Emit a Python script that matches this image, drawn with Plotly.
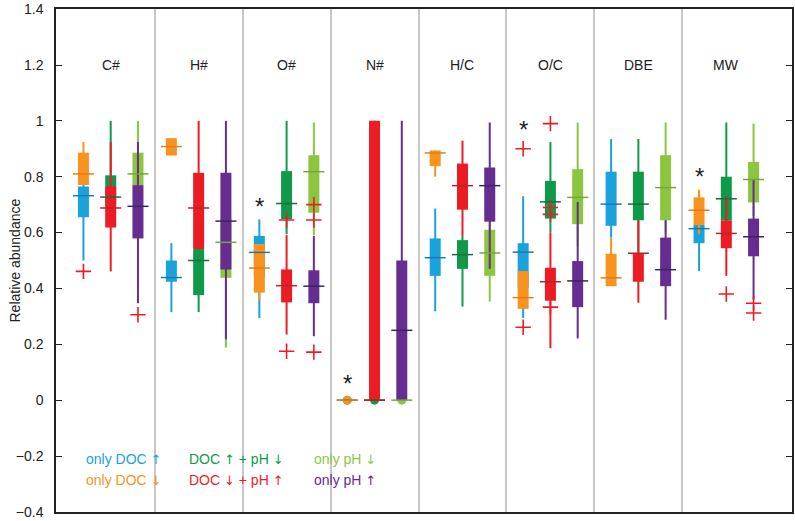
import plotly.graph_objects as go

# ---------------- data ----------------
groups = ["C#", "H#", "O#", "N#", "H/C", "O/C", "DBE", "MW"]

# five-number summaries per group: [lower whisker, q1, median, q3, upper whisker]
only_doc_up = [
    [0.500, 0.655, 0.732, 0.765, 0.860],
    [0.315, 0.424, 0.439, 0.500, 0.562],
    [0.294, 0.440, 0.529, 0.588, 0.647],
    [0.0, 0.0, 0.0, 0.0, 0.0],
    [0.318, 0.445, 0.510, 0.579, 0.686],
    [0.294, 0.400, 0.530, 0.562, 0.730],
    [0.582, 0.624, 0.702, 0.818, 0.935],
    [0.462, 0.562, 0.614, 0.627, 0.700],
]
only_doc_down = [
    [0.770, 0.770, 0.810, 0.886, 0.924],
    [0.876, 0.876, 0.908, 0.938, 0.938],
    [0.359, 0.385, 0.473, 0.559, 0.559],
    [0.0, 0.0, 0.0, 0.0, 0.0],
    [0.800, 0.838, 0.885, 0.894, 0.894],
    [0.327, 0.327, 0.367, 0.462, 0.462],
    [0.408, 0.408, 0.438, 0.524, 0.582],
    [0.594, 0.627, 0.680, 0.726, 0.753],
]
doc_up_ph_down = [
    [0.620, 0.700, 0.727, 0.805, 1.000],
    [0.315, 0.376, 0.500, 0.541, 0.700],
    [0.594, 0.648, 0.704, 0.820, 1.000],
    [0.0, 0.0, 0.0, 0.0, 0.0],
    [0.335, 0.470, 0.521, 0.573, 0.588],
    [0.600, 0.650, 0.710, 0.785, 0.924],
    [0.530, 0.644, 0.702, 0.818, 0.935],
    [0.600, 0.644, 0.721, 0.800, 0.994],
]
doc_down_ph_up = [
    [0.461, 0.618, 0.688, 0.765, 0.924],
    [0.541, 0.541, 0.688, 0.814, 1.000],
    [0.235, 0.350, 0.410, 0.468, 0.591],
    [0.0, 0.0, 0.0, 1.000, 1.000],
    [0.588, 0.682, 0.768, 0.847, 0.929],
    [0.186, 0.356, 0.424, 0.474, 0.600],
    [0.349, 0.424, 0.526, 0.526, 0.644],
    [0.445, 0.544, 0.597, 0.644, 0.730],
]
only_ph_down = [
    [0.600, 0.770, 0.810, 0.886, 1.000],
    [0.188, 0.438, 0.565, 0.650, 0.700],
    [0.590, 0.671, 0.818, 0.877, 0.994],
    [0.0, 0.0, 0.0, 0.0, 0.0],
    [0.353, 0.445, 0.527, 0.610, 0.639],
    [0.550, 0.630, 0.726, 0.827, 0.994],
    [0.600, 0.644, 0.761, 0.877, 0.994],
    [0.660, 0.708, 0.790, 0.853, 0.990],
]
only_ph_up = [
    [0.347, 0.579, 0.694, 0.770, 0.924],
    [0.218, 0.468, 0.641, 0.814, 1.000],
    [0.229, 0.347, 0.408, 0.465, 0.588],
    [0.0, 0.0, 0.250, 0.500, 1.000],
    [0.470, 0.639, 0.768, 0.833, 0.994],
    [0.221, 0.333, 0.427, 0.498, 0.710],
    [0.288, 0.408, 0.467, 0.582, 0.644],
    [0.360, 0.515, 0.585, 0.650, 0.788],
]

# outliers: (group index, value)
only_doc_up_out = [(0, 0.461), (5, 0.900), (5, 0.261)]
only_doc_down_out = []
doc_up_ph_down_out = []
doc_down_ph_up_out = [(2, 0.645), (2, 0.175), (5, 0.990), (5, 0.690), (5, 0.665), (5, 0.333), (7, 0.380)]
only_ph_down_out = []
only_ph_up_out = [(0, 0.306), (2, 0.700), (2, 0.645), (2, 0.172), (7, 0.347), (7, 0.312)]

# significance stars: (group index, value)
star_groups = [2, 3, 5, 7]
star_values = [0.712, 0.077, 0.986, 0.818]

series_text = ["only DOC", "only DOC", "DOC {} + pH {}", "DOC {} + pH {}", "only pH", "only pH"]
series_arrows = [["↑"], ["↓"], ["↑", "↓"], ["↓", "↑"], ["↓"], ["↑"]]

# ---------------- styling ----------------
colors = ["#1AA2DC", "#F7931E", "#0F9A4A", "#EC1C24", "#8CC63F", "#662D91"]
median_colors = ["#1F78A8", "#DB7F22", "#1C6B3C", "#B4242A", "#77A545", "#3E2363"]
offsets = [-0.31, -0.31, 0.0, 0.0, 0.31, 0.31]

series_data = [only_doc_up, only_doc_down, doc_up_ph_down, doc_down_ph_up, only_ph_down, only_ph_up]
series_out = [only_doc_up_out, only_doc_down_out, doc_up_ph_down_out,
              doc_down_ph_up_out, only_ph_down_out, only_ph_up_out]


def arrow(a):
    return '<span style="font-family:DejaVu Sans;font-size:13px">' + a + '</span>'


def label(s):
    arrs = [arrow(a) for a in series_arrows[s]]
    if "{}" in series_text[s]:
        return series_text[s].format(*arrs)
    return series_text[s] + " " + arrs[0]


fig = go.Figure()

for s, data in enumerate(series_data):
    xs_w, ys_w, xs_b, ys_b, xs_d, ys_d = [], [], [], [], [], []
    for g, (lw, q1, med, q3, uw) in enumerate(data):
        x = g + 1 + offsets[s]
        xs_w += [x, x, None]
        ys_w += [lw, uw, None]
        if q3 > q1:
            xs_b += [x, x, None]
            ys_b += [q1, q3, None]
        else:
            xs_d.append(x)
            ys_d.append(q1)
    fig.add_trace(go.Scatter(x=xs_w, y=ys_w, mode="lines", line=dict(color=colors[s], width=2),
                             hoverinfo="skip", showlegend=False))
    fig.add_trace(go.Scatter(x=xs_d, y=ys_d, mode="markers",
                             marker=dict(color=colors[s], size=9, line=dict(width=0)),
                             hoverinfo="skip", showlegend=False))
    fig.add_trace(go.Scatter(x=xs_b, y=ys_b, mode="lines", line=dict(color=colors[s], width=11),
                             hoverinfo="skip", showlegend=False))

for s, data in enumerate(series_data):
    fig.add_trace(go.Scatter(
        x=[g + 1 + offsets[s] for g in range(len(data))],
        y=[row[2] for row in data],
        mode="markers",
        marker=dict(symbol="line-ew", size=15, line=dict(color=median_colors[s], width=1.5)),
        hoverinfo="skip", showlegend=False))

for s, outs in enumerate(series_out):
    if not outs:
        continue
    fig.add_trace(go.Scatter(
        x=[g + 1 + offsets[s] for g, v in outs],
        y=[v for g, v in outs],
        mode="markers",
        marker=dict(symbol="cross-thin", size=11, line=dict(color="#EC1C24", width=1.6)),
        hoverinfo="skip", showlegend=False))

annotations = []
for g, name in enumerate(groups):
    annotations.append(dict(x=g + 1, y=1.2, text=name, showarrow=False,
                            font=dict(size=14, color="#222222")))
for g, v in zip(star_groups, star_values):
    annotations.append(dict(x=g + 1 + offsets[0], y=v, text="*", showarrow=False, yshift=-5,
                            font=dict(size=24, color="#222222")))

legend_x = [0.695, 0.695, 1.863, 1.863, 3.29, 3.29]
legend_y = [-0.21, -0.285, -0.21, -0.285, -0.21, -0.285]
for s in range(6):
    annotations.append(dict(x=legend_x[s], y=legend_y[s], text=label(s), showarrow=False,
                            xanchor="left", font=dict(size=14, color=colors[s])))

# y-axis title
annotations.append(dict(xref="paper", yref="paper", x=0, y=0.5, xshift=-42, text="Relative abundance",
                        textangle=-90, showarrow=False, xanchor="center", yanchor="middle",
                        font=dict(size=14, color="#222222")))

fig.update_layout(
    width=795, height=521,
    margin=dict(l=56, r=1, t=5, b=6),
    plot_bgcolor="white", paper_bgcolor="white",
    font=dict(family="Liberation Sans, Arial, sans-serif", size=14, color="#222222"),
    annotations=annotations,
    showlegend=False,
)
fig.update_xaxes(range=[0.378, 8.747], tickvals=[1.5, 2.5, 3.5, 4.5, 5.5, 6.5, 7.5],
                 showticklabels=False, ticks="", showgrid=True, gridcolor="#C8C8C8", gridwidth=2,
                 showline=True, linecolor="#222222", linewidth=1.5, mirror=True, zeroline=False)
fig.update_yaxes(range=[-0.4005, 1.4005], tickvals=[-0.4, -0.2, 0, 0.2, 0.4, 0.6, 0.8, 1, 1.2, 1.4],
                 ticktext=["\u22120.4", "\u22120.2", "0", "0.2", "0.4", "0.6", "0.8", "1", "1.2", "1.4"],
                 ticks="inside", ticklen=6, tickwidth=1.2,
                 tickcolor="#222222", showline=True, linecolor="#222222", linewidth=1.5,
                 mirror="ticks", showgrid=False, zeroline=False, ticklabelstandoff=8,
                 ticklabeloverflow="allow")

fig.write_html("out.html", config={"displayModeBar": False},
               post_script="document.body.style.margin='0';")
